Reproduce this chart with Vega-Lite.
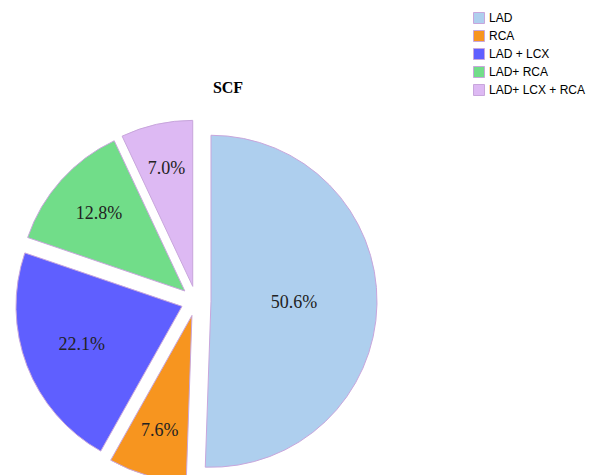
{
  "$schema": "https://vega.github.io/schema/vega-lite/v6.json",
  "width": 392,
  "height": 348,
  "autosize": {"type": "none"},
  "padding": {"left": 0, "top": 127, "right": 203, "bottom": 0},
  "background": "white",
  "title": {
    "text": "SCF",
    "font": "Liberation Serif",
    "fontSize": 16,
    "fontWeight": "bold",
    "color": "#000000",
    "anchor": "middle",
    "dx": 32,
    "offset": -84
  },
  "data": {
    "values": [
      {"group": "LAD", "value": 0.506, "i": 1},
      {"group": "RCA", "value": 0.076, "i": 2},
      {"group": "LAD + LCX", "value": 0.221, "i": 3},
      {"group": "LAD+ RCA", "value": 0.128, "i": 4},
      {"group": "LAD+ LCX + RCA", "value": 0.070, "i": 5}
    ]
  },
  "encoding": {
    "theta": {"field": "value", "type": "quantitative", "stack": true},
    "order": {"field": "i", "type": "quantitative"}
  },
  "layer": [
    {
      "mark": {
        "type": "arc",
        "outerRadius": 166,
        "stroke": "#c8a6dc",
        "strokeWidth": 1,
        "xOffset": {"expr": "15 * sin(scale('theta', (datum.value_start + datum.value_end) / 2))"},
        "yOffset": {"expr": "-15 * cos(scale('theta', (datum.value_start + datum.value_end) / 2))"}
      },
      "encoding": {
        "color": {
          "field": "group",
          "type": "nominal",
          "scale": {
            "domain": ["LAD", "RCA", "LAD + LCX", "LAD+ RCA", "LAD+ LCX + RCA"],
            "range": ["#aecfee", "#f7951f", "#5f5fff", "#71dd89", "#ddb9f3"]
          },
          "legend": {
            "orient": "none",
            "legendX": 473,
            "legendY": -115,
            "title": null,
            "symbolType": "square",
            "symbolSize": 121,
            "symbolStrokeColor": "#c8a6dc",
            "symbolStrokeWidth": 1,
            "labelFont": "Liberation Sans",
            "labelFontSize": 12,
            "labelColor": "#000000",
            "rowPadding": 2,
            "labelOffset": 4,
            "padding": 0
          }
        }
      }
    },
    {
      "mark": {
        "type": "text",
        "radius": {"expr": "126 - 13.5 * (scale('theta', datum.value_end) - scale('theta', datum.value_start))"},
        "font": "Liberation Serif",
        "fontSize": 18,
        "fill": "#222222",
        "align": "center",
        "baseline": "middle",
        "xOffset": {"expr": "15 * sin(scale('theta', (datum.value_start + datum.value_end) / 2))"},
        "yOffset": {"expr": "-15 * cos(scale('theta', (datum.value_start + datum.value_end) / 2))"}
      },
      "encoding": {
        "detail": {"field": "group", "type": "nominal"},
        "text": {"field": "value", "type": "quantitative", "format": ".1%"}
      }
    }
  ],
  "config": {"view": {"stroke": null}}
}
